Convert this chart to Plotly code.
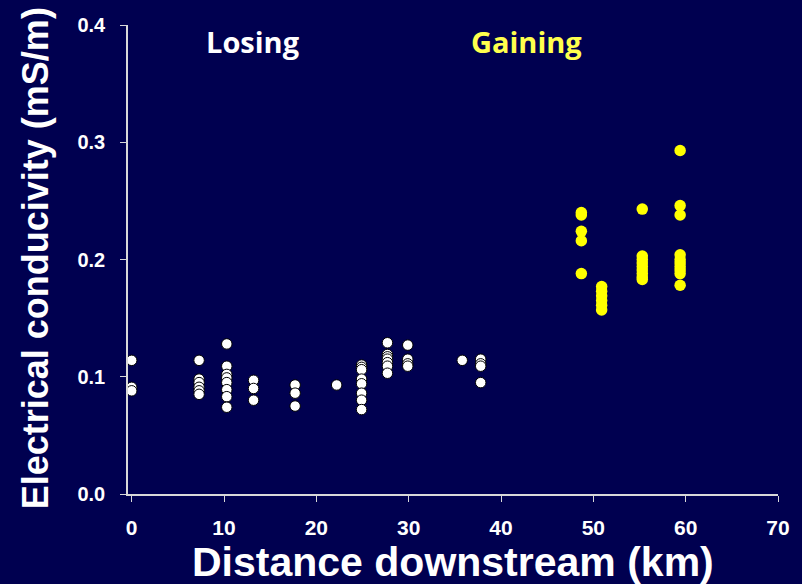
import plotly.graph_objects as go

# Losing reach samples (distance km, conductivity mS/m)
losing_x = [0, 0, 0,
            7.3, 7.3, 7.3, 7.3, 7.3, 7.3,
            10.3, 10.3, 10.3, 10.3, 10.3, 10.3, 10.3, 10.3,
            13.2, 13.2, 13.2,
            17.7, 17.7, 17.7,
            22.2,
            24.9, 24.9, 24.9, 24.9, 24.9, 24.9, 24.9, 24.9,
            27.7, 27.7, 27.7, 27.7, 27.7, 27.7, 27.7,
            29.9, 29.9, 29.9, 29.9,
            35.8,
            37.8, 37.8, 37.8, 37.8]
losing_y = [0.114, 0.091, 0.088,
            0.114, 0.098, 0.095, 0.091, 0.088, 0.085,
            0.128, 0.109, 0.102, 0.099, 0.095, 0.089, 0.083, 0.074,
            0.097, 0.090, 0.080,
            0.093, 0.086, 0.075,
            0.093,
            0.110, 0.108, 0.106, 0.098, 0.094, 0.086, 0.080, 0.072,
            0.129, 0.119, 0.117, 0.115, 0.112, 0.109, 0.103,
            0.127, 0.115, 0.111, 0.109,
            0.114,
            0.115, 0.111, 0.109, 0.095]

# Gaining reach samples
gaining_x = [48.7, 48.7, 48.7, 48.7, 48.7,
             50.9, 50.9, 50.9, 50.9, 50.9, 50.9,
             55.3, 55.3, 55.3, 55.3, 55.3, 55.3, 55.3, 55.3, 55.3,
             59.4, 59.4, 59.4, 59.4, 59.4, 59.4, 59.4, 59.4, 59.4, 59.4]
gaining_y = [0.240, 0.238, 0.224, 0.216, 0.188,
             0.177, 0.173, 0.169, 0.165, 0.161, 0.157,
             0.243, 0.203, 0.200, 0.197, 0.194, 0.191, 0.188, 0.185, 0.183,
             0.293, 0.246, 0.238, 0.204, 0.200, 0.197, 0.194, 0.191, 0.188, 0.178]

x_ticks = [0, 10, 20, 30, 40, 50, 60, 70]
y_ticks = [0.0, 0.1, 0.2, 0.3, 0.4]
y_tick_labels = ["0.0", "0.1", "0.2", "0.3", "0.4"]

BG = "#000050"
FONT = "Liberation Sans, Arial, sans-serif"
AX = "#d8d8d8"

fig = go.Figure()
fig.add_trace(go.Scatter(x=losing_x, y=losing_y, mode="markers", name="Losing",
                         marker=dict(size=10.5, color="white", line=dict(color="black", width=1))))
fig.add_trace(go.Scatter(x=gaining_x, y=gaining_y, mode="markers", name="Gaining",
                         marker=dict(size=11.5, color="#FFFF00", line=dict(width=0))))

fig.update_layout(
    width=802, height=584,
    paper_bgcolor=BG, plot_bgcolor=BG,
    margin=dict(l=128, r=22, t=25, b=90),
    showlegend=False,
    font=dict(family=FONT, color="white"),
    xaxis=dict(range=[-0.4, 70], tickvals=x_ticks,
               ticktext=[f"<b>{v}</b>" for v in x_ticks],
               ticks="outside", ticklen=6, ticklabelstandoff=8,
               tickcolor=AX, showline=True, linecolor=AX, linewidth=1.5,
               showgrid=False, zeroline=False,
               tickfont=dict(family=FONT, size=21, color="white")),
    yaxis=dict(range=[0, 0.4], tickvals=y_ticks,
               ticktext=[f"<b>{t}</b>" for t in y_tick_labels], ticks="outside",
               ticklen=6, ticklabelstandoff=11, tickcolor=AX, showline=True, linecolor=AX,
               linewidth=1.5, showgrid=False, zeroline=False,
               tickfont=dict(family=FONT, size=20, color="white")),
)

# axis titles (positioned in paper coordinates)
fig.add_annotation(xref="paper", yref="paper", x=(454 - 128) / 652, y=(494 - 562) / 469,
                   text="<b>Distance downstream (km)</b>", showarrow=False,
                   xanchor="center", yanchor="middle",
                   font=dict(family=FONT, size=41, color="white"))
fig.add_annotation(xref="paper", yref="paper", x=(35 - 128) / 652, y=(494 - 258) / 469,
                   text="<b>Electrical conducivity (mS/m)</b>", showarrow=False, textangle=-90,
                   xanchor="center", yanchor="middle",
                   font=dict(family=FONT, size=36, color="white"))

fig.add_annotation(x=13.1, y=0.386, xref="x", yref="y", text="<b>Losing</b>",
                   showarrow=False, font=dict(family="Open Sans, Lato, sans-serif", size=29, color="white"))
fig.add_annotation(x=42.8, y=0.386, xref="x", yref="y", text="<b>Gaining</b>",
                   showarrow=False, font=dict(family="Open Sans, Lato, sans-serif", size=29, color="#FFFF4D"))

fig.write_html("out.html")
